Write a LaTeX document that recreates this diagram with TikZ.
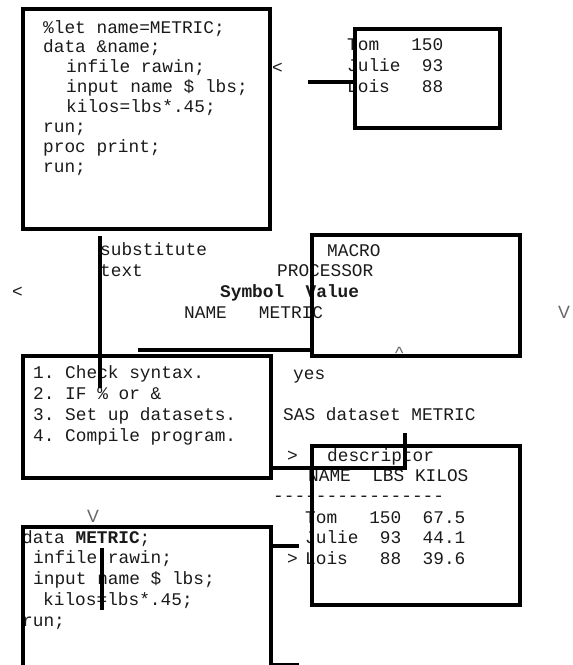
\documentclass[tikz,border=0pt]{standalone}
\usepackage{fontspec}
\setmonofont{Liberation Mono}
\newfontfamily\thinsans{Liberation Sans}
\usetikzlibrary{positioning}
\definecolor{ink}{HTML}{1A1A1A}
\definecolor{tick}{HTML}{666666}

\begin{document}
\begin{tikzpicture}[x=1pt,y=-1pt,
    code/.style={font=\ttfamily\fontsize{17.8}{20}\selectfont,text=ink,inner sep=0pt,anchor=base west},
    pointer/.style={font=\thinsans\fontsize{17.8}{20}\selectfont,text=tick,inner sep=0pt,anchor=base west},
    frame/.style={draw,line width=4.5pt,inner sep=0pt},
    bar/.style={line width=4.5pt}]
    \path[use as bounding box] (0,0) rectangle (573,665);
    \clip (0,0) rectangle (573,665);
    % program text
    \foreach \x/\txt [count=\i] in {43/\%let name=METRIC;,43/data \&name;,66/infile rawin;,
        66/input name \$ lbs;,66/kilos=lbs*.45;,43/run;,43/proc print;,43/run;} {
      \node[code] (prog-\i) at ({\x},{33+(\i-1)*19.9}) {\txt};
    }
    \node[code] (inArrow) at (272,73) {<};
    \foreach \txt [count=\i] in {Tom~~~150,Julie~~93,Lois~~~88} {
      \node[code] (raw-\i) at ({347},{50+(\i-1)*21}) {\txt};
    }
    % macro processor
    \node[code] (subst) at (100,255) {substitute};
    \node[code] (substTxt) at (100,276) {text};
    \node[code] (macroLbl) at (327,256) {MACRO};
    \node[code] (procLbl) at (277,276) {PROCESSOR};
    \node[code] (backArrow) at (12,297) {<};
    \node[code,font=\ttfamily\bfseries\fontsize{17.8}{20}\selectfont] (symHead) at (220,297) {Symbol~~Value};
    \node[code] (symRow) at (184,318) {NAME~~~METRIC};
    \node[pointer] (downRight) at (558,318) {V};
    \node[pointer] (upMark) at (395,359) {\^{}};
    % compile steps
    \foreach \txt [count=\i] in {1. Check syntax.,2. IF \% or \&,3. Set up datasets.,4. Compile program.} {
      \node[code] (step-\i) at ({33},{378+(\i-1)*21.3}) {\txt};
    }
    \node[code] (yesLbl) at (293,379) {yes};
    \node[code] (dsLbl) at (283,420) {SAS dataset METRIC};
    % dataset
    \node[code] (descArrow) at (287,461) {>};
    \node[code] (descLbl) at (327,461) {descriptor};
    \node[code] (dsHead) at (308,481) {NAME~~LBS~KILOS};
    \node[code] (dsRule) at (273,501) {----------------};
    \node[code] (ds-1) at (305,523) {Tom~~~150~~67.5};
    \node[code] (ds-2) at (305,543) {Julie~~93~~44.1};
    \node[code] (loisArrow) at (287,564) {>};
    \node[code] (ds-3) at (305,564) {Lois~~~88~~39.6};
    % generated code
    \node[pointer] (downLeft) at (87,522) {V};
    \foreach \x/\txt [count=\i] in {22/data \textbf{METRIC};,33/infile rawin;,33/input name \$ lbs;,
        43/kilos=lbs*.45;,22/run;} {
      \node[code] (gen-\i) at ({\x},{543+(\i-1)*20.9}) {\txt};
    }
    % frames
    \node[frame,minimum width=247pt,minimum height=220pt] (prog) at (146.5,119) {};
    \node[frame,minimum width=145pt,minimum height=99pt] (rawin) at (427.5,78.5) {};
    \node[frame,minimum width=208pt,minimum height=121pt] (macro) at (416,295.5) {};
    \node[frame,minimum width=248pt,minimum height=122pt] (steps) at (147,417) {};
    \node[frame,minimum width=208pt,minimum height=159pt] (dataset) at (416,525.5) {};
    \node[frame,minimum width=248pt,minimum height=173pt] (gen) at (147,613.5) {};
    % bars
    \coordinate (rawinBar) at (308,82);
    \draw[bar] (rawinBar) -- (rawinBar -| rawin.west);
    \coordinate (substTop) at (100,236);
    \coordinate (substEnd) at (100,388);
    \draw[bar] (substTop) -- (substEnd);
    \coordinate (symBar) at (138,350);
    \draw[bar] (symBar) -- (symBar -| macro.west);
    \coordinate (dsTop) at (405,433);
    \coordinate (dsTurn) at (405,468);
    \draw[bar] (dsTop) |- (dsTurn -| steps.east);
    \coordinate (julieBar) at (299,546);
    \draw[bar] (julieBar -| gen.east) -- (julieBar);
    \coordinate (genTop) at (102,548);
    \coordinate (genEnd) at (102,610);
    \draw[bar] (genTop) -- (genEnd);
    \coordinate (genFoot) at (299,665);
    \draw[bar] (genFoot -| gen.east) -- (genFoot);
  \end{tikzpicture}
\end{document}
